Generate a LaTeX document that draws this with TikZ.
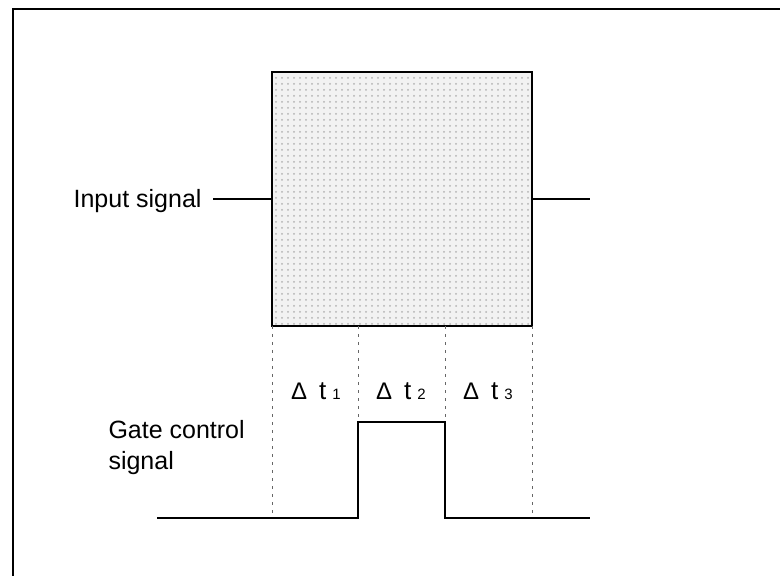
\documentclass[tikz,border=0pt]{standalone}
\usepackage{fontspec}
\setmainfont{Liberation Sans}
\usetikzlibrary{patterns}
\tikzset{
  lbl/.style={font=\fontsize{12.5}{15.5}\selectfont, inner sep=0pt},
  dtlbl/.style={font=\fontsize{13}{15}\selectfont, inner sep=0pt},
  gridln/.style={black!60, line width=0.4pt, dash pattern=on 1.5pt off 2.5pt},
  wire/.style={line width=0.6pt},
}
\begin{document}
\begin{tikzpicture}[x=0.5pt,y=-0.5pt,line width=0.5pt]
  \useasboundingbox (0,0) rectangle (780,576);
  \draw[line width=1pt] (13,576) -- (13,9) -- (780,9);

  \node[draw, line width=0.6pt, minimum width=130pt, minimum height=127pt, inner sep=0pt,
    preaction={fill=black!5}, pattern=dots, pattern color=black!30] (gate) at (402,199) {};

  \node[lbl, inner xsep=5.5pt, anchor=base east] (inlbl) at (213,208) {Input signal};
  \coordinate (outend) at (590,199);
  \draw[wire] (inlbl.east |- gate.west) -- (gate.west);
  \draw[wire] (gate.east) -- (outend);

  \foreach \x [count=\i] in {272,358,445,532} {
    \coordinate (top\i) at (\x,326);
    \coordinate (bot\i) at (\x,518);
    \draw[gridln] (top\i) -- (bot\i);
  }
  \foreach \x/\n in {316/1,401/2,488/3}
    \node[dtlbl, anchor=base] (dt\n) at (\x,400)
      {{\fontsize{12}{13}\selectfont Δ}\hspace{6pt}t\hspace{3pt}{\fontsize{7.5}{8}\selectfont \n}};

  \node[lbl, align=left, anchor=north west] (gatelbl) at (108,420) {Gate control\\signal};
  \coordinate (lo0) at (157,518);
  \coordinate (hi2) at (358,422);
  \coordinate (hi3) at (445,422);
  \coordinate (lo5) at (590,518);
  \draw[wire] (lo0) -- (bot2) -- (hi2) -- (hi3) -- (bot3) -- (lo5);
\end{tikzpicture}
\end{document}
